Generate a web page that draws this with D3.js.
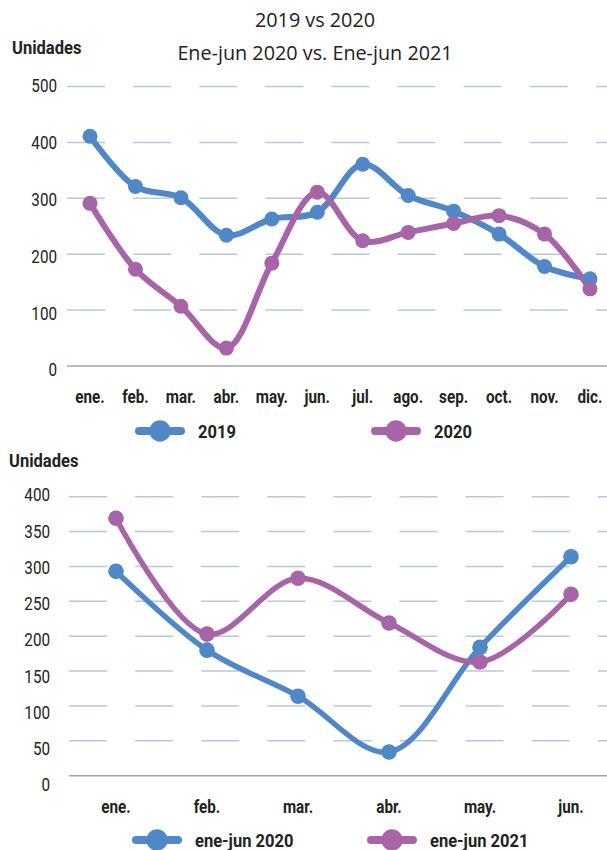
<!DOCTYPE html>
<html><head><meta charset="utf-8">
<script src="https://cdn.jsdelivr.net/npm/d3@7"></script>
<style>
html,body{margin:0;padding:0;background:#fff;}
svg{display:block;}
</style></head>
<body>
<svg id="c" width="607" height="850"></svg>
<script>
// ---- data ----
const titleLines = ["2019 vs 2020", "Ene-jun 2020 vs. Ene-jun 2021"];
const yTitle = "Unidades";

const months1 = ["ene.","feb.","mar.","abr.","may.","jun.","jul.","ago.","sep.","oct.","nov.","dic."];
const series2019 = [411, 321, 301, 234, 263, 275, 361, 305, 277, 236, 178, 156];
const series2020 = [291, 173, 107, 32, 184, 311, 224, 239, 255, 269, 236, 138];
const yTicks1 = [0, 100, 200, 300, 400, 500];
const legend1 = ["2019", "2020"];

const months2 = ["ene.","feb.","mar.","abr.","may.","jun."];
const seriesH1_2020 = [293, 180, 114, 34, 184, 314];
const seriesH1_2021 = [369, 203, 283, 219, 163, 260];
const yTicks2 = [0, 50, 100, 150, 200, 250, 300, 350, 400];
const legend2 = ["ene-jun 2020", "ene-jun 2021"];

const colors = ["#4f87c7", "#a764a6"];

const svg = d3.select("#c");
const FONT_COND = 'Roboto,"Noto Sans",sans-serif';
const SX = 0.87;

// condensed text helper: real text, squeezed horizontally
function condText(parent, x, y, str, o) {
  const t = parent.append("text")
    .attr("transform", `translate(${x},${y}) scale(${SX},1)`)
    .attr("x", 0).attr("y", 0).attr("dy", o.dy || null)
    .attr("text-anchor", o.anchor || "start")
    .attr("font-family", FONT_COND)
    .attr("font-weight", o.bold ? "bold" : "normal")
    .attr("font-size", o.size).attr("fill", "#222").text(str);
  return t;
}

// titles
svg.append("text").attr("x", 315).attr("y", 27).attr("text-anchor","middle")
  .attr("font-family","'Open Sans',sans-serif").attr("font-size",19.8).attr("fill","#222")
  .text(titleLines[0]);
svg.append("text").attr("x", 315).attr("y", 60).attr("text-anchor","middle")
  .attr("font-family","'Open Sans',sans-serif").attr("font-size",19.8).attr("fill","#222")
  .text(titleLines[1]);

function drawChart(cfg) {
  const g = svg.append("g");
  const x = d3.scaleBand().domain(cfg.cats).range(cfg.xRange);
  const y = d3.scaleLinear().domain(cfg.yDomain).range(cfg.yRange);
  const yl = d3.scaleLinear().domain(cfg.yDomain).range(cfg.labelRange);

  // y title
  condText(g, cfg.yTitleX, cfg.yTitleY, yTitle, {bold: true, size: 19});

  // gridlines
  g.selectAll(".grid").data(cfg.ticks.filter(d => d > 0)).join("line")
    .attr("x1", cfg.gridX0).attr("x2", 607)
    .attr("y1", d => y(d)).attr("y2", d => y(d))
    .attr("stroke", "#b9c8dc").attr("stroke-width", 1.5)
    .attr("stroke-dasharray", "38,28.1");
  // zero axis
  g.append("line").attr("x1", cfg.gridX0).attr("x2", 607)
    .attr("y1", y(0)).attr("y2", y(0))
    .attr("stroke", "#a6a6a6").attr("stroke-width", 1.6);

  // y tick labels
  cfg.ticks.forEach(d => condText(g, cfg.tickX, yl(d), d, {anchor: "end", dy: "0.36em", size: 17.5}));

  // x labels
  cfg.cats.forEach(d => condText(g, x(d) + x.bandwidth()/2, cfg.xLabelY, d,
    {anchor: "middle", dy: "0.36em", size: 17.5, bold: true}));

  const line = d3.line()
    .x((d,i) => x(cfg.cats[i]) + x.bandwidth()/2)
    .y(d => y(d))
    .curve(d3.curveCatmullRom.alpha(0.5));

  cfg.series.forEach((s, si) => {
    g.append("path").attr("d", line(s)).attr("fill","none")
      .attr("stroke", colors[si]).attr("stroke-width", cfg.lw)
      .attr("stroke-linejoin","round").attr("stroke-linecap","round");
  });
  cfg.series.forEach((s, si) => {
    g.selectAll(null).data(s).join("circle")
      .attr("cx", (d,i) => x(cfg.cats[i]) + x.bandwidth()/2)
      .attr("cy", d => y(d)).attr("r", cfg.r).attr("fill", colors[si]);
  });

  // legend
  cfg.legend.forEach((name, i) => {
    const lx = cfg.legendX[i], ly = cfg.legendY;
    g.append("line").attr("x1", lx - 21).attr("x2", lx + 21).attr("y1", ly).attr("y2", ly)
      .attr("stroke", colors[i]).attr("stroke-width", 8).attr("stroke-linecap","round");
    g.append("circle").attr("cx", lx).attr("cy", ly).attr("r", 10.7).attr("fill", colors[i]);
    condText(g, lx + 38, ly, name, {dy: "0.36em", size: 19, bold: true});
  });
}

drawChart({
  cats: months1, series: [series2019, series2020], ticks: yTicks1,
  xRange: [67.3, 612.7], yDomain: [0, 500], yRange: [366, 86.5], labelRange: [370, 86],
  gridX0: 67, tickX: 57, xLabelY: 397, yTitleX: 12, yTitleY: 54,
  lw: 6, r: 7.5, legend: legend1, legendX: [160, 396], legendY: 431
});

drawChart({
  cats: months2, series: [seriesH1_2020, seriesH1_2021], ticks: yTicks2,
  xRange: [70.5, 616.5], yDomain: [0, 400], yRange: [775.7, 496.7], labelRange: [785, 495],
  gridX0: 69, tickX: 50, xLabelY: 807, yTitleX: 9, yTitleY: 467,
  lw: 5.5, r: 7.8, legend: legend2, legendX: [157, 392], legendY: 840
});
</script>
</body></html>
